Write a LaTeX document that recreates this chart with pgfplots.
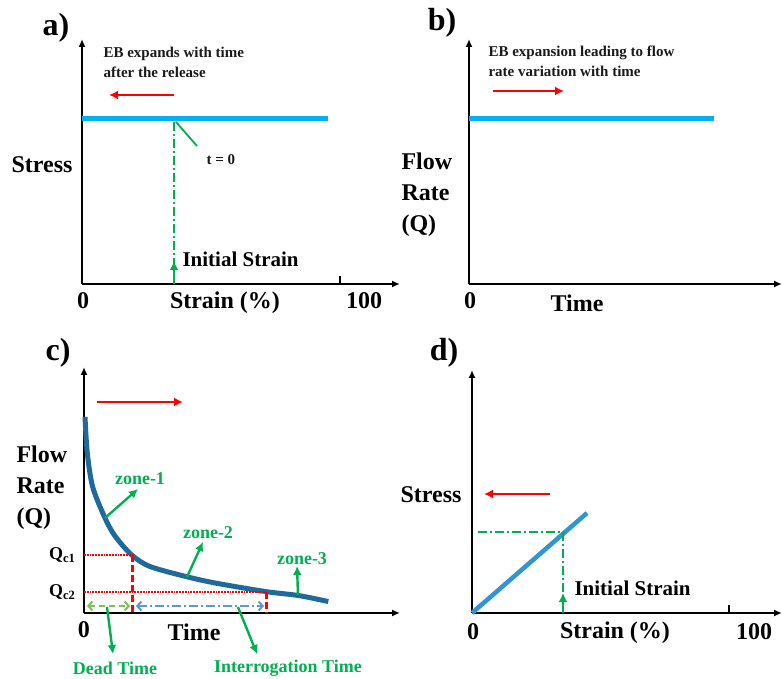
\documentclass[border=0pt]{standalone}
\usepackage{pgfplots}
\pgfplotsset{compat=1.18}
\usepackage{fontspec}
\setmainfont{Liberation Serif}
\usetikzlibrary{arrows.meta}
\definecolor{cyanline}{HTML}{00B0F0}
\definecolor{curveblue}{HTML}{1F6A9A}
\definecolor{dline}{HTML}{2F95D5}
\definecolor{ggreen}{HTML}{00B050}
\definecolor{lgreen}{HTML}{7CC44E}
\definecolor{lblue}{HTML}{5B9BD5}
\definecolor{txt}{HTML}{1A1A1A}
\begin{document}
\begin{tikzpicture}
\useasboundingbox (0pt,0pt) rectangle (782pt,678pt);
\tikzset{
  big/.style={font=\fontsize{24}{31}\selectfont\bfseries, text=black},
  panlab/.style={font=\fontsize{32}{32}\selectfont\bfseries, text=black},
  small/.style={font=\fontsize{15}{20}\selectfont\bfseries, text=txt},
  mid/.style={font=\fontsize{21}{21}\selectfont\bfseries, text=black},
  gtxt/.style={font=\fontsize{18}{18}\selectfont\bfseries, text=ggreen},
  redarr/.style={red, line width=2.8pt, -{Latex[length=9pt,width=9pt]}},
  garr/.style={ggreen, line width=2.4pt, -{Latex[length=9pt,width=9pt]}},
  gdashdot/.style={ggreen, line width=1.6pt, dash pattern=on 9pt off 3pt on 2pt off 3pt},
}
\pgfplotsset{
  panel/.style={
    scale only axis, axis lines=left, clip=false,
    axis line style={line width=2pt, black},
    x axis line style={-{Latex[length=8pt,width=7pt]}},
    y axis line style={-{Latex[length=8pt,width=7pt]}},
    ytick=\empty, xticklabels={},
    major tick length=8pt, tick align=inside,
    tick style={line width=1.5pt, black},
    anchor=south west,
  }
}
% ---------------- a) ----------------
\begin{axis}[panel, at={(82pt,394pt)}, width=318pt, height=245pt,
  xmin=0, xmax=318, ymin=0, ymax=245, xtick={258}]
\addplot[cyanline, line width=5pt] coordinates {(0,165) (246,165)};
\addplot[gdashdot] coordinates {(92,0) (92,163)};
\draw[garr] (axis cs:92,0) -- (axis cs:92,23);
\draw[ggreen, line width=1.8pt] (axis cs:94,162) -- (axis cs:115,138);
\node[anchor=west, small] at (axis cs:121,124) {t = 0};
\node[anchor=west, mid] at (axis cs:97,25) {Initial Strain};
\draw[redarr] (axis cs:92,189) -- (axis cs:27,189);
\node[anchor=west, small, align=left] at (axis cs:18,222) {EB expands with time\\after the release};
\node[big] at (axis cs:-40,119) {Stress};
\node[panlab] at (axis cs:-26,256) {a)};
\node[big] at (axis cs:1,-17) {0};
\node[big] at (axis cs:143,-19) {Strain (\%)};
\node[big] at (axis cs:282,-17) {100};
\end{axis}
% ---------------- b) ----------------
\begin{axis}[panel, at={(469pt,394pt)}, width=313pt, height=245pt,
  xmin=0, xmax=313, ymin=0, ymax=245, xtick=\empty]
\addplot[cyanline, line width=5pt] coordinates {(0,165) (245,165)};
\draw[redarr] (axis cs:24,193) -- (axis cs:95,193);
\node[anchor=west, small, align=left] at (axis cs:16,222.5) {EB expansion leading to flow\\rate variation with time};
\node[anchor=west, big, align=left] at (axis cs:-71,89) {Flow\\Rate\\(Q)};
\node[panlab] at (axis cs:-27,261) {b)};
\node[big] at (axis cs:1,-17) {0};
\node[big] at (axis cs:108,-19) {Time};
\end{axis}
% ---------------- c) ----------------
\begin{axis}[panel, at={(84pt,65pt)}, width=316pt, height=246pt,
  xmin=0, xmax=316, ymin=0, ymax=246, xtick=\empty]
\addplot[curveblue, line width=5pt, smooth] coordinates {
  (1,196) (3.3,160) (8.7,126) (21,95) (31,77) (47.7,58) (66,46.5)
  (102.7,36.3) (132.7,29.7) (182.7,21.3) (214.3,17.5) (244.3,11.5)};
\addplot[red, line width=1.8pt, densely dotted] coordinates {(0,58) (48,58)};
\addplot[red, line width=1.8pt, densely dotted] coordinates {(0,21) (182,21)};
\addplot[red, line width=3pt, dash pattern=on 7pt off 3pt] coordinates {(48,58) (48,0)};
\addplot[red, line width=3pt, dash pattern=on 7pt off 3pt] coordinates {(182,21) (182,0)};
\draw[lgreen, line width=2pt, dash pattern=on 6pt off 4pt, {Straight Barb[length=4pt,width=9pt]}-{Straight Barb[length=4pt,width=9pt]}] (axis cs:3,7) -- (axis cs:46,7);
\draw[lblue, line width=2pt, dash pattern=on 9pt off 3pt on 2pt off 3pt, {Straight Barb[length=4pt,width=9pt]}-{Straight Barb[length=4pt,width=9pt]}] (axis cs:52,7) -- (axis cs:180,7);
\draw[garr] (axis cs:23,6) -- (axis cs:29,-41);
\draw[garr] (axis cs:154,6) -- (axis cs:173,-41);
\node[gtxt] at (axis cs:31,-55) {Dead Time};
\node[gtxt] at (axis cs:204,-55) {Interrogation Time};
\draw[garr] (axis cs:21,95) -- (axis cs:54,124);
\node[gtxt] at (axis cs:56,134) {zone-1};
\draw[garr] (axis cs:103,36) -- (axis cs:119,71);
\node[gtxt] at (axis cs:124,80) {zone-2};
\draw[garr] (axis cs:214,18) -- (axis cs:213,47);
\node[gtxt] at (axis cs:218,54) {zone-3};
\draw[redarr] (axis cs:13,211) -- (axis cs:99,211);
\node[anchor=west, big, align=left] at (axis cs:-71,125) {Flow\\Rate\\(Q)};
\node[anchor=east, font=\fontsize{18}{18}\selectfont\bfseries] at (axis cs:-5,58) {Q\textsubscript{c1}};
\node[anchor=east, font=\fontsize{18}{18}\selectfont\bfseries] at (axis cs:-5,21) {Q\textsubscript{c2}};
\node[panlab] at (axis cs:-26,260) {c)};
\node[big] at (axis cs:0,-17) {0};
\node[big] at (axis cs:110,-19) {Time};
\end{axis}
% ---------------- d) ----------------
\begin{axis}[panel, at={(472pt,65pt)}, width=310pt, height=243pt,
  xmin=0, xmax=310, ymin=0, ymax=243, xtick={257}]
\addplot[dline, line width=4.5pt] coordinates {(0,0) (115,100)};
\addplot[gdashdot] coordinates {(6,81) (91,81) (91,0)};
\draw[garr] (axis cs:91,0) -- (axis cs:91,20);
\node[anchor=west, mid] at (axis cs:99,25) {Initial Strain};
\draw[redarr] (axis cs:78,119) -- (axis cs:12,119);
\node[big] at (axis cs:-41,118) {Stress};
\node[panlab] at (axis cs:-28,260) {d)};
\node[big] at (axis cs:1,-19) {0};
\node[big] at (axis cs:143,-20) {Strain (\%)};
\node[big] at (axis cs:282,-19) {100};
\end{axis}
\end{tikzpicture}
\end{document}
